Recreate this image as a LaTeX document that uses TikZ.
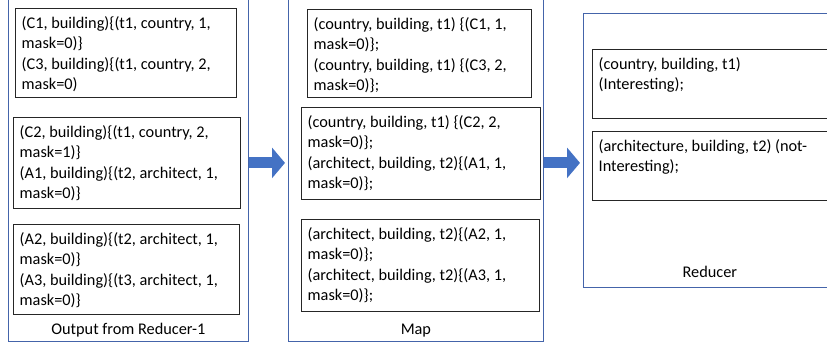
\documentclass[tikz,border=0pt]{standalone}
\usepackage{fontspec}
\setmainfont{Carlito}
\usetikzlibrary{arrows.meta}
\definecolor{boxblue}{RGB}{68,100,170}
\definecolor{arrowblue}{RGB}{68,114,196}
\newcommand{\boxfont}{\fontsize{16.3pt}{20.3pt}\selectfont}
\tikzset{
  outbox/.style={draw=boxblue, line width=0.8pt, inner sep=0pt, anchor=north west},
  inbox/.style={draw=black!85, line width=1pt, inner sep=0pt, anchor=north west},
  intext/.style={anchor=north west, align=left, inner xsep=6.5pt, inner ysep=8.5pt, font=\boxfont},
  lbl/.style={anchor=base, inner sep=0pt, font=\boxfont},
  flow/.style={draw=arrowblue, line width=11pt, -{Triangle[length=13pt,width=30pt]}}
}
\begin{document}
\begin{tikzpicture}[x=1pt,y=-1pt]
\useasboundingbox (0,0) rectangle (827,348);
\clip (0,0) rectangle (827,348);
% Output from Reducer-1
\node[outbox, minimum width=240pt, minimum height=357pt] (out1) at (8,-16) {};
\node[inbox, minimum width=221pt, minimum height=89pt] (r1a) at (15,8) {};
\node[inbox, minimum width=227pt, minimum height=91pt] (r1b) at (13,117) {};
\node[inbox, minimum width=226pt, minimum height=90pt] (r1c) at (13,224) {};
\node[intext] (r1atxt) at (r1a.north west) {(C1, building)\{(t1, country, 1,\\ mask=0)\}\\ (C3, building)\{(t1, country, 2,\\ mask=0)};
\node[intext] (r1btxt) at (r1b.north west) {(C2, building)\{(t1, country, 2,\\ mask=1)\}\\ (A1, building)\{(t2, architect, 1,\\ mask=0)\}};
\node[intext] (r1ctxt) at (r1c.north west) {(A2, building)\{(t2, architect, 1,\\ mask=0)\}\\ (A3, building)\{(t3, architect, 1,\\ mask=0)\}};
\node[lbl] (out1lbl) at ([yshift=7pt]out1.south) {Output from Reducer-1};
% Map
\node[outbox, minimum width=255pt, minimum height=357pt] (map) at (288,-16) {};
\node[inbox, minimum width=224pt, minimum height=88pt] (m2a) at (307,9) {};
\node[inbox, minimum width=239pt, minimum height=92pt] (m2b) at (301,107) {};
\node[inbox, minimum width=238pt, minimum height=92pt] (m2c) at (301,219) {};
\node[intext] (m2atxt) at (m2a.north west) {(country, building, t1) \{(C1, 1,\\ mask=0)\};\\ (country, building, t1) \{(C3, 2,\\ mask=0)\};};
\node[intext] (m2btxt) at (m2b.north west) {(country, building, t1) \{(C2, 2,\\ mask=0)\};\\ (architect, building, t2)\{(A1, 1,\\ mask=0)\};};
\node[intext] (m2ctxt) at (m2c.north west) {(architect, building, t2)\{(A2, 1,\\ mask=0)\};\\ (architect, building, t2)\{(A3, 1,\\ mask=0)\};};
\node[lbl] (maplbl) at ([yshift=7pt]map.south) {Map};
% Reducer
\node[outbox, minimum width=253pt, minimum height=274pt] (red) at (583,13) {};
\node[inbox, minimum width=244pt, minimum height=69pt] (r3a) at (592,49) {};
\node[inbox, minimum width=244pt, minimum height=69pt] (r3b) at (592,131) {};
\node[intext] (r3atxt) at (r3a.north west) {(country, building, t1)\\ (Interesting);};
\node[intext] (r3btxt) at (r3b.north west) {(architecture, building, t2) (not-\\ Interesting);};
\node[lbl] (redlbl) at ([yshift=10pt]red.south) {Reducer};
% Arrows
\draw[flow, shorten >=3pt] (out1.east) -- (map.west);
\draw[flow, shorten >=3pt] (map.east) -- (map.east -| red.west);
\end{tikzpicture}
\end{document}
